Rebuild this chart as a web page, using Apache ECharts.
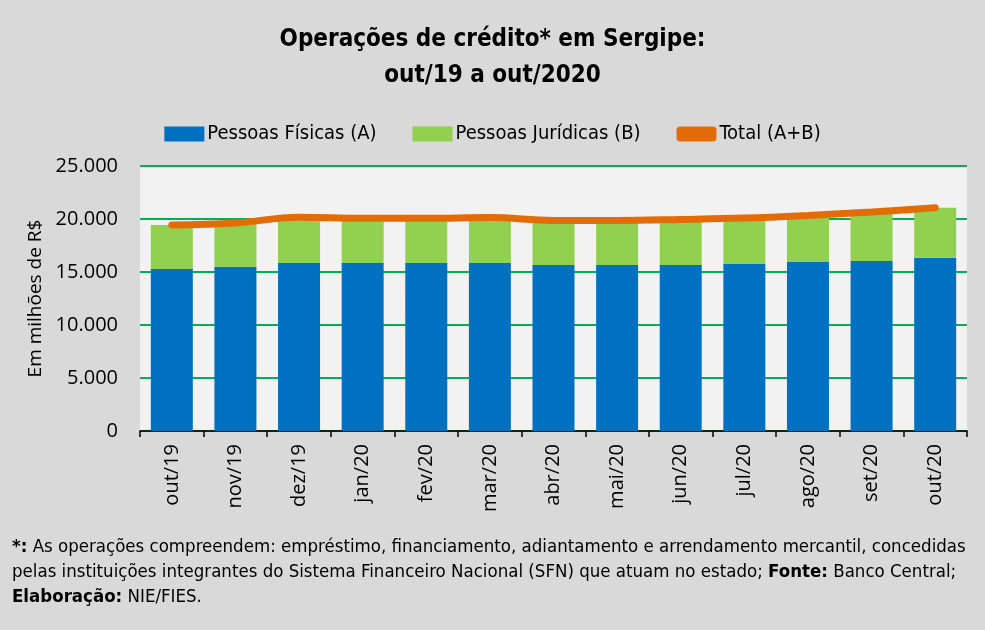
<!DOCTYPE html>
<html>
<head>
<meta charset="utf-8">
<script src="https://cdn.jsdelivr.net/npm/echarts@6/dist/echarts.min.js"></script>
<style>
  html, body { margin: 0; padding: 0; background: #d9d9d9; }
  #chart { width: 985px; height: 630px; }
</style>
</head>
<body>
<div id="chart"></div>
<script>
// Months on the x axis
const months = ['out/19', 'nov/19', 'dez/19', 'jan/20', 'fev/20', 'mar/20', 'abr/20',
                'mai/20', 'jun/20', 'jul/20', 'ago/20', 'set/20', 'out/20'];

// Pessoas Físicas (A), em milhões de R$
const pessoasFisicas = [15280, 15500, 15850, 15850, 15850, 15850, 15660,
                        15660, 15660, 15750, 15940, 16040, 16350];

// Pessoas Jurídicas (B), em milhões de R$
const pessoasJuridicas = [4150, 4120, 4320, 4210, 4210, 4280, 4210,
                          4210, 4300, 4340, 4400, 4620, 4710];

// Total (A+B)
const totalAB = [19430, 19620, 20170, 20060, 20060, 20130, 19870,
                 19870, 19960, 20090, 20340, 20660, 21060];

// Y axis ticks
const yTicks = [0, 5000, 10000, 15000, 20000, 25000];

const fontMain = '"Open Sans", "Noto Sans", sans-serif';
const fontNarrow = '"DejaVu Sans Condensed", "Noto Sans", sans-serif';

const chart = echarts.init(document.getElementById('chart'));

const fmt = v => v === 0 ? '0' : v.toLocaleString('pt-BR');

chart.setOption({
    backgroundColor: '#d9d9d9',
    animation: false,
    title: {
        text: 'Operações de crédito* em Sergipe:\nout/19 a out/2020',
        left: 'center',
        top: 17,
        textStyle: {
            fontFamily: fontNarrow,
            fontSize: 24,
            fontWeight: 'bold',
            color: '#000',
            lineHeight: 36
        }
    },
    legend: {
        top: 119,
        left: 'center',
        itemGap: 36,
        itemWidth: 40,
        itemHeight: 15,
        textStyle: { fontFamily: fontNarrow, fontSize: 20, color: '#000', padding: [0, 0, 0, -2] },
        data: [
            { name: 'Pessoas Físicas (A)', icon: 'rect' },
            { name: 'Pessoas Jurídicas (B)', icon: 'rect' },
            { name: 'Total (A+B)', icon: 'roundRect' }
        ]
    },
    grid: {
        left: 140,
        right: 18,
        top: 166,
        bottom: 199,
        show: true,
        backgroundColor: '#f2f2f2',
        borderWidth: 0
    },
    xAxis: {
        type: 'category',
        data: months,
        axisLine: { lineStyle: { color: '#000', width: 1.5 } },
        axisTick: { show: true, length: 6, lineStyle: { color: '#000', width: 1.5 } },
        axisLabel: {
            rotate: 90,
            fontFamily: fontMain,
            fontSize: 20,
            color: '#000',
            margin: 13
        }
    },
    yAxis: {
        type: 'value',
        min: yTicks[0],
        max: yTicks[yTicks.length - 1],
        interval: 5000,
        name: 'Em milhões de R$',
        nameLocation: 'middle',
        nameGap: 94,
        nameTextStyle: { fontFamily: fontMain, fontSize: 19, color: '#000' },
        axisLine: { show: false },
        axisTick: { show: false },
        axisLabel: {
            fontFamily: fontMain,
            fontSize: 20,
            color: '#000',
            margin: 22,
            formatter: fmt
        },
        splitLine: { lineStyle: { color: '#00b050', width: 2 } }
    },
    series: [
        {
            name: 'Pessoas Físicas (A)',
            type: 'bar',
            stack: 'credito',
            data: pessoasFisicas,
            barCategoryGap: '34%',
            itemStyle: { color: '#0070c0' }
        },
        {
            name: 'Pessoas Jurídicas (B)',
            type: 'bar',
            stack: 'credito',
            data: pessoasJuridicas,
            barCategoryGap: '34%',
            itemStyle: { color: '#92d050' }
        },
        {
            name: 'Total (A+B)',
            type: 'line',
            data: totalAB,
            smooth: 0.4,
            symbol: 'none',
            z: 5,
            lineStyle: { color: '#e36c09', width: 7, cap: 'round' },
            itemStyle: { color: '#e36c09' }
        }
    ],
    graphic: [
        {
            type: 'text',
            left: 12,
            top: 535,
            style: {
                text: '{b|*:} As operações compreendem: empréstimo, financiamento, adiantamento e arrendamento mercantil, concedidas\n' +
                      'pelas instituições integrantes do Sistema Financeiro Nacional (SFN) que atuam no estado; {b|Fonte:} Banco Central;\n' +
                      '{b|Elaboração:} NIE/FIES.',
                fontFamily: fontNarrow,
                fontSize: 18.5,
                lineHeight: 25,
                fill: '#000',
                rich: {
                    b: { fontFamily: fontNarrow, fontSize: 18.5, fontWeight: 'bold', fill: '#000', lineHeight: 25 }
                }
            }
        }
    ]
});
</script>
</body>
</html>
